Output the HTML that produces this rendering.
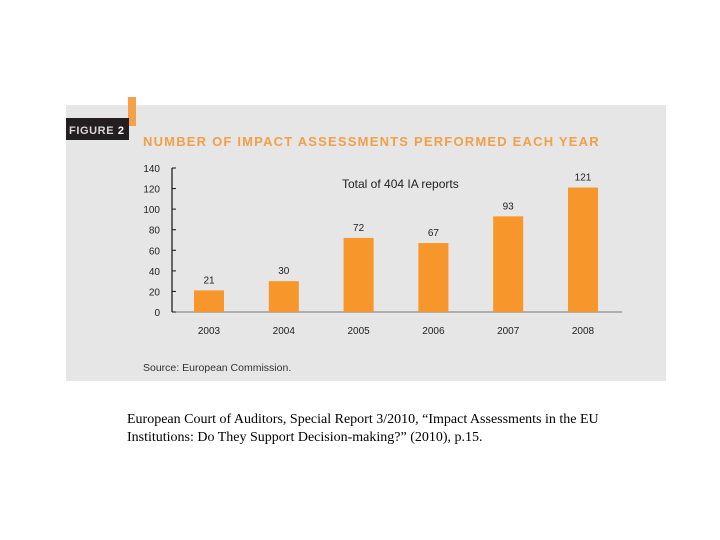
<!DOCTYPE html>
<html><head><meta charset="utf-8"><style>
body{margin:0;width:720px;height:540px;background:#fff;position:relative;overflow:hidden;font-family:"Liberation Sans",sans-serif}
</style></head><body>
<svg width="720" height="540" style="position:absolute;left:0;top:0">
<rect x="66" y="105" width="600" height="276" fill="#e6e6e6"/>
<rect x="128" y="97" width="8" height="29" fill="#f6a04a"/>
<rect x="66" y="118" width="63" height="22" fill="#231f20"/>
<text x="69" y="134" fill="#d8d8d8" font-size="11" font-weight="bold" letter-spacing="0.6">FIGURE <tspan fill="#fff">2</tspan></text>
<text x="143" y="146" fill="#f0a048" font-size="13" font-weight="bold" letter-spacing="1.2">NUMBER OF IMPACT ASSESSMENTS PERFORMED EACH YEAR</text>
<text x="342" y="188" fill="#222" font-size="12">Total of 404 IA reports</text>
<g id="chart"></g>
<text x="143" y="371" fill="#333" font-size="10.5">Source: European Commission.</text>
</svg>
<div style="position:absolute;left:127px;top:411px;font-family:'Liberation Serif',serif;font-size:14px;line-height:18px;color:#000;white-space:nowrap">European Court of Auditors, Special Report 3/2010, “Impact Assessments in the EU<br>Institutions: Do They Support Decision-making?” (2010), p.15.</div>
<script>
const categories=["2003","2004","2005","2006","2007","2008"];
const values=[21,30,72,67,93,121];
const yTicks=[0,20,40,60,80,100,120,140];
const NS="http://www.w3.org/2000/svg";
const g=document.getElementById("chart");
const y0=312,yTop=168,yMax=140;
function y(v){return y0-(v/yMax)*(y0-yTop);}
function x(i){return 209+i*74.8;}
const bw=30;
function mk(t,a){const e=document.createElementNS(NS,t);for(const k in a)e.setAttribute(k,a[k]);g.appendChild(e);return e;}
let ax=mk("line",{x1:172,y1:y0,x2:172,y2:y(140),stroke:"#111","stroke-width":1.2});


let xa=mk("line",{x1:175,y1:y0,x2:622,y2:y0,stroke:"#777","stroke-width":1});


yTicks.forEach(v=>{
 let t=mk("line",{x1:172,y1:y(v),x2:176,y2:y(v),stroke:"#111"});
 
 
 let l=mk("text",{x:160,y:y(v)+4,"text-anchor":"end","font-size":10,fill:"#222"});
 l.textContent=v;
 
 
});
categories.forEach((c,i)=>{
 let b=mk("rect",{x:x(i)-bw/2,y:y(values[i]),width:bw,height:y0-y(values[i]),fill:"#f7962a"});
 
 
 let vl=mk("text",{x:x(i),y:y(values[i])-7,"text-anchor":"middle","font-size":10,fill:"#222"});
 vl.textContent=values[i];
 
 
 let cl=mk("text",{x:x(i),y:334,"text-anchor":"middle","font-size":10,fill:"#222"});
 cl.textContent=c;
 
 
});
</script>
</body></html>
